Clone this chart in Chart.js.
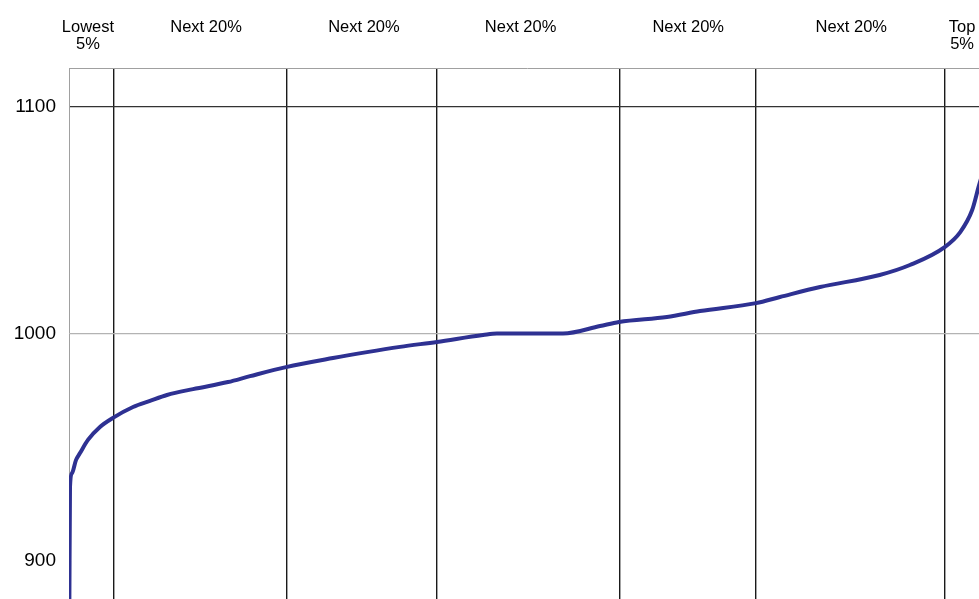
<!DOCTYPE html>
<html>
<head>
<meta charset="utf-8">
<script src="https://cdn.jsdelivr.net/npm/chart.js@4.4.1/dist/chart.umd.min.js"></script>
<style>
  html, body { margin: 0; padding: 0; background: #fff; overflow: hidden; }
  #wrap { width: 1000px; height: 600px; }
</style>
</head>
<body>
<div id="wrap"><canvas id="curve" width="1000" height="600"></canvas></div>
<script>
// rank position along the population (0-100) and the score at that rank
var rank = [0, 0.03, 0.11, 0.33, 0.76, 1.2, 2.07, 3.38, 4.8, 6.99, 8.84, 10.7, 13.54, 17.36, 19.76,
  23.69, 28.82, 32.53, 36.14, 40.17, 45.2, 46.72, 53.93, 57.97, 60.04, 65.28, 68.89, 75.0,
  77.62, 82.0, 88.5, 91.8, 95.6, 97.3, 98.6, 99.3, 100];
var score = [860, 873, 932.5, 938.5, 944.2, 947.3, 953.1, 958.8, 962.8, 967.6, 970.3, 972.9, 975.5, 978.6, 981.2,
  985.2, 989.2, 991.8, 994.1, 996.3, 999.3, 1000, 1000, 1003.3, 1005.1, 1007.3, 1009.9, 1013.4,
  1016.1, 1020.5, 1025.8, 1030.2, 1038.1, 1044.7, 1054.4, 1064.6, 1074.3];

// group boundaries (vertical lines) and where the group names sit
var groupEdges = [4.91, 23.8, 40.17, 60.15, 75.0, 95.63];
var groupCentres = [2.07, 14.96, 32.2, 49.3, 67.6, 85.4, 97.5];
var groupLabels = [['Lowest', '5%'], 'Next 20%', 'Next 20%', 'Next 20%', 'Next 20%', 'Next 20%', ['Top', '5%']];

var yTicks = [900, 1000, 1100];

var font = 'Liberation Sans, Arial, sans-serif';

var ctx = document.getElementById('curve');
var chart = new Chart(ctx, {
  type: 'line',
  data: {
    datasets: [{
      data: rank.map(function (r, i) { return { x: r, y: score[i] }; }),
      borderColor: '#2e3192',
      borderWidth: 4,
      pointRadius: 0,
      fill: false,
      cubicInterpolationMode: 'monotone',
      xAxisID: 'x',
      yAxisID: 'y'
    }]
  },
  options: {
    responsive: false,
    animation: false,
    layout: { autoPadding: false, padding: { top: 19, right: 15, left: 0, bottom: 0 } },
    plugins: {
      legend: { display: false },
      tooltip: { enabled: false }
    },
    scales: {
      x: {
        type: 'linear',
        position: 'bottom',
        min: 0,
        max: 100,
        afterBuildTicks: function (axis) {
          axis.ticks = groupEdges.map(function (v) { return { value: v }; });
        },
        afterFit: function (axis) {
          axis.height = 1;
          axis.paddingLeft = 0;
          axis.paddingRight = 0;
        },
        ticks: { display: false },
        grid: { color: '#1a1a1a', lineWidth: 1.4, drawTicks: false },
        border: { color: '#a0a0a0' }
      },
      xTop: {
        type: 'linear',
        position: 'top',
        min: 0,
        max: 100,
        afterBuildTicks: function (axis) {
          axis.ticks = groupCentres.map(function (v) { return { value: v }; });
        },
        afterFit: function (axis) {
          axis.height = 49;
          axis.paddingLeft = 0;
          axis.paddingRight = 0;
        },
        ticks: {
          autoSkip: false,
          maxRotation: 0,
          crossAlign: 'far',
          padding: 15,
          color: '#000',
          font: { family: font, size: 16.5, lineHeight: '17px' },
          callback: function (v, i) { return groupLabels[i]; }
        },
        grid: { display: false, drawTicks: false },
        border: { color: '#a0a0a0' }
      },
      y: {
        min: 883,
        max: 1117,
        afterBuildTicks: function (axis) {
          axis.ticks = yTicks.map(function (v) { return { value: v }; });
        },
        afterFit: function (axis) {
          axis.width = 69;
          axis.paddingTop = 0;
          axis.paddingBottom = 0;
        },
        ticks: {
          padding: 13,
          color: '#000',
          font: { family: font, size: 19 },
          callback: function (v) { return String(v); }
        },
        grid: {
          drawTicks: false,
          color: function (c) {
            if (c.tick && c.tick.value === 1100) return '#333';
            if (c.tick && c.tick.value === 1000) return '#b3b3b3';
            return 'rgba(0,0,0,0)';
          },
          lineWidth: 1.2
        },
        border: { color: '#a0a0a0' }
      }
    }
  }
});
</script>
</body>
</html>
